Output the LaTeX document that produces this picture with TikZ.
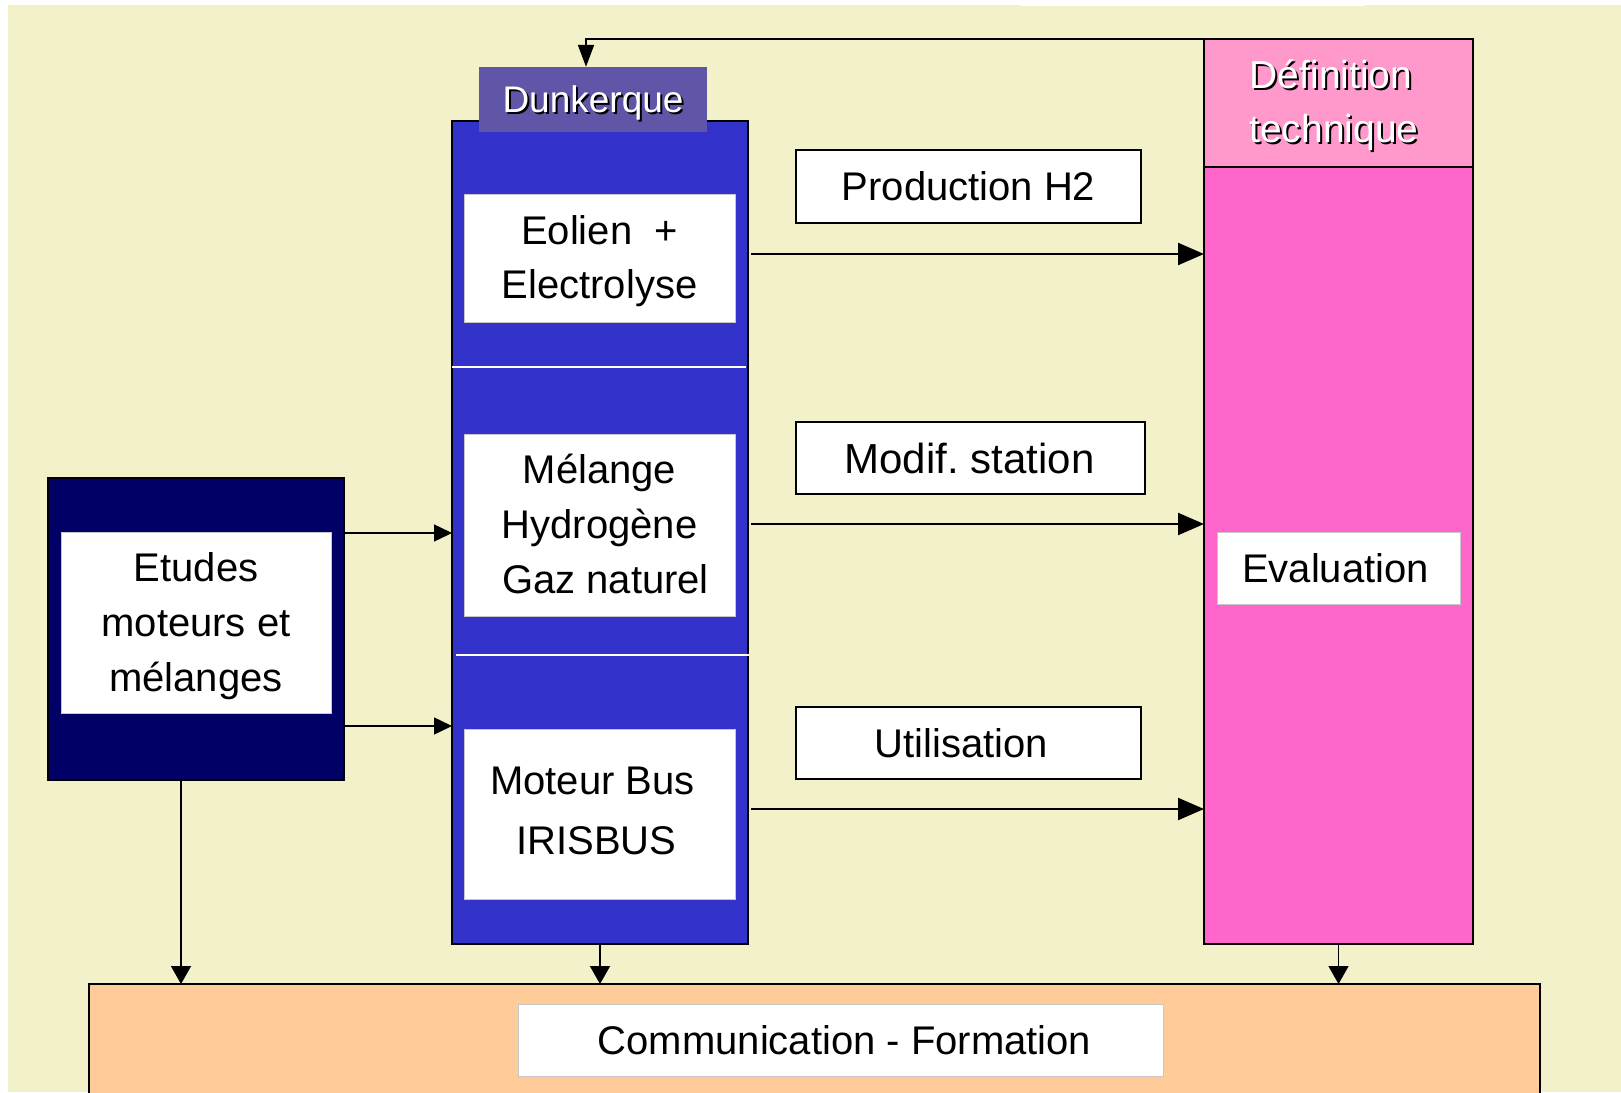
\documentclass[tikz,border=0pt]{standalone}
\usepackage{fontspec}
\setmainfont{Liberation Sans}
\usetikzlibrary{arrows.meta}
\definecolor{bgc}{HTML}{F3F1CA}
\definecolor{bluec}{HTML}{3333CC}
\definecolor{headc}{HTML}{5F56A8}
\definecolor{navyc}{HTML}{000066}
\definecolor{pinklc}{HTML}{FF99CC}
\definecolor{pinkc}{HTML}{FF66CC}
\definecolor{orangec}{HTML}{FFCC99}
\tikzset{
  box/.style={rectangle, inner sep=0pt, outer sep=0pt, draw=black, line width=2pt},
  wbox/.style={rectangle, inner sep=0pt, outer sep=0pt, fill=white, draw=black!22, line width=0.8pt},
  lbox/.style={rectangle, inner sep=0pt, outer sep=0pt, fill=white, draw=black, line width=1.3pt},
  txt/.style={align=center, inner sep=0pt, font=\fontsize{40}{55}\selectfont},
  bigarr/.style={line width=2.2pt, -{Triangle[length=26pt,width=22pt]}},
  smarr/.style={line width=1.5pt, -{Triangle[length=18pt,width=17pt]}},
  downarr/.style={line width=1.5pt, -{Triangle[length=18pt,width=20pt]}},
  shadowtxt/.style={text=black, align=center},
  whitetxt/.style={text=white, align=center},
}
\begin{document}
\begin{tikzpicture}[x=1pt,y=-1pt]
\useasboundingbox (0,0) rectangle (1621,1092);
\fill[white] (0,0) rectangle (1621,1092);
\fill[bgc] (7.5,5) rectangle (1621,1092);
\fill[white] (1020,0) rectangle (1365,6);

% orange bottom
\node[box, fill=orangec, minimum width=1451pt, minimum height=116pt] (orange) at (814.5,1042) {};
\node[wbox, minimum width=645pt, minimum height=72pt] (comm) at (840.5,1040) {};
\node[txt] (commt) at ([xshift=4pt]comm.center) {Communication - Formation};

% blue column
\node[box, fill=bluec, minimum width=296pt, minimum height=823pt] (blue) at (600,532.5) {};
\node[rectangle, inner sep=0pt, fill=headc, minimum width=228pt, minimum height=65pt] (head) at (592.5,99.5) {};
\node[shadowtxt, font=\fontsize{37}{44}\selectfont] (headsh) at (595,105) {Dunkerque};
\node[whitetxt, font=\fontsize{37}{44}\selectfont] (headtx) at (593,103) {Dunkerque};
\node[wbox, minimum width=271pt, minimum height=128pt] (eol) at (599.5,258) {};
\node[txt, font=\fontsize{40}{54}\selectfont] (eolt) at ([yshift=-3pt]eol.center) {Eolien\ \ +\\Electrolyse};
\node[wbox, minimum width=271pt, minimum height=182pt] (mel) at (599.5,525) {};
\node[txt] (melt) at ([yshift=1pt]mel.center) {Mélange\\Hydrogène\\\hspace*{12pt}Gaz naturel};
\node[wbox, minimum width=271pt, minimum height=170pt] (mot) at (599.5,814) {};
\node[txt, font=\fontsize{40}{60}\selectfont] (mott) at ([xshift=-7pt,yshift=3pt]mot.center) {Moteur Bus\\\hspace*{8pt}IRISBUS};
\draw[white, line width=2pt] (blue.west |- 0,367) -- ([xshift=-2pt]blue.east |- 0,367);
\draw[white, line width=2pt] ([xshift=4pt]blue.west |- 0,655) -- ([xshift=1pt]blue.east |- 0,655);

% etudes
\node[box, fill=navyc, minimum width=296pt, minimum height=302pt] (navy) at (196,629) {};
\node[wbox, minimum width=270pt, minimum height=181pt] (etu) at (196,622.5) {};
\node[txt] (etut) at ([yshift=-4pt]etu.center) {Etudes\\moteurs et\\mélanges};

% pink column
\node[box, fill=pinkc, minimum width=269pt, minimum height=905pt] (pink) at (1338.5,491.5) {};
\node[box, fill=pinklc, minimum width=269pt, minimum height=128pt] (pinkh) at (1338.5,103) {};
\node[shadowtxt, font=\fontsize{39}{54}\selectfont] (defsh) at (1333,107) {Définition\\\hspace*{6pt}technique};
\node[whitetxt, font=\fontsize{39}{54}\selectfont] (deftx) at (1331,105) {Définition\\\hspace*{6pt}technique};
\node[wbox, minimum width=243pt, minimum height=72pt] (eval) at (1338.5,568) {};
\node[txt] (evalt) at ([xshift=-3pt]eval.center) {Evaluation};

% labels
\node[lbox, minimum width=345pt, minimum height=73pt] (prod) at (968.5,186.5) {};
\node[txt] (prodt) at (prod.center) {Production H2};
\node[lbox, minimum width=349pt, minimum height=72pt] (modif) at (970.5,458) {};
\node[txt, font=\fontsize{42}{55}\selectfont] (modift) at ([xshift=-1pt]modif.center) {Modif.\ station};
\node[lbox, minimum width=345pt, minimum height=72pt] (util) at (968.5,743) {};
\node[txt] (utilt) at ([xshift=-7pt]util.center) {Utilisation};

% arrows to pink
\draw[bigarr] ([xshift=3pt,yshift=4pt]blue.east |- eol.center) -- ([yshift=4pt]pink.west |- eol.center);
\draw[bigarr] ([xshift=3pt,yshift=1pt]blue.east |- mel.center) -- ([yshift=1pt]pink.west |- mel.center);
\draw[bigarr] ([xshift=3pt,yshift=5pt]blue.east |- mot.center) -- ([yshift=5pt]pink.west |- mot.center);

% etudes arrows
\draw[smarr] ([yshift=-55pt]navy.north east) coordinate (a1) -- (a1 -| blue.west);
\draw[smarr] ([yshift=54pt]navy.south east) coordinate (a2) -- (a2 -| blue.west);

% down arrows
\draw[downarr] ([xshift=133pt]navy.south west) coordinate (d1) -- (d1 |- orange.north);
\draw[downarr] (blue.south) -- (blue.south |- orange.north);
\draw[downarr] (pink.south) -- (pink.south |- orange.north);

% feedback
\draw[line width=2pt, -{Triangle[length=22pt,width=16pt]}] (pink.north east) -| ([xshift=-6.5pt]head.north);
\end{tikzpicture}
\end{document}
